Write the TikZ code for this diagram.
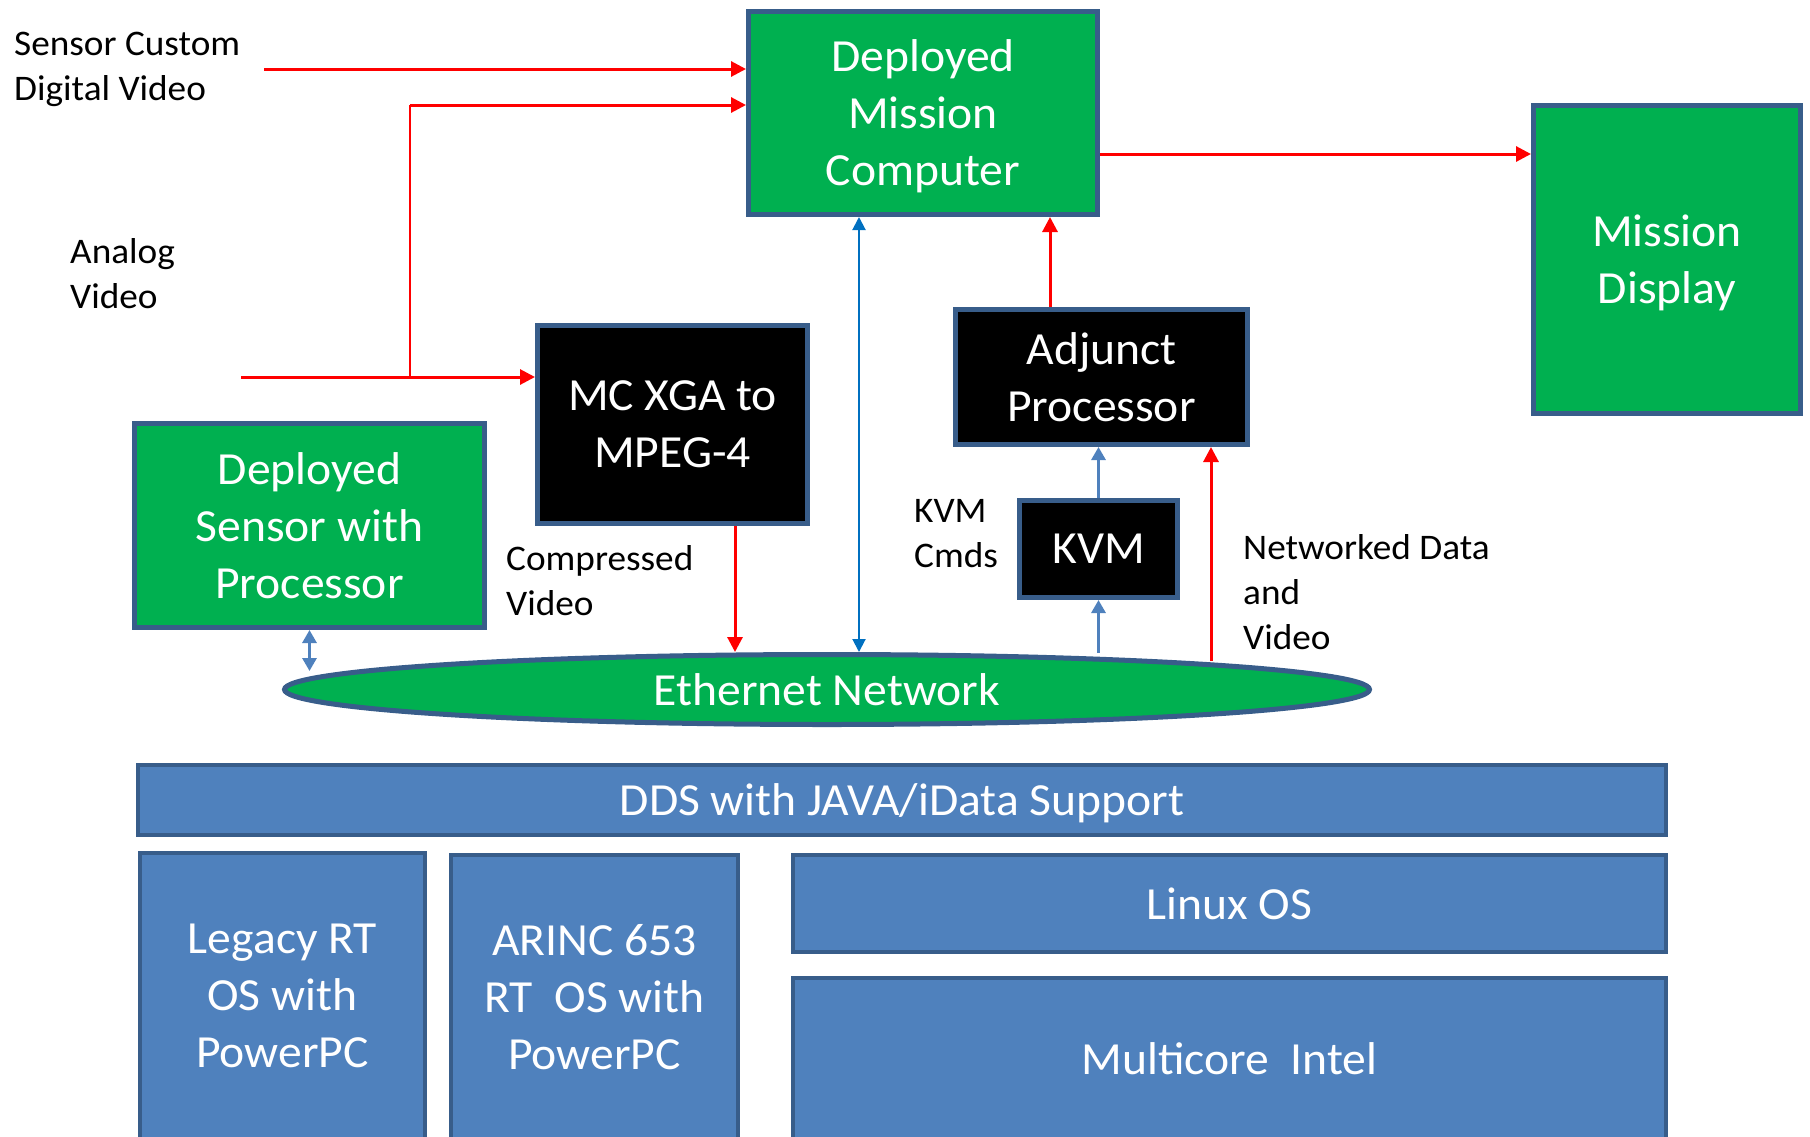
\documentclass[tikz,border=0pt]{standalone}
\usepackage{fontspec}
\setmainfont{Carlito}[FakeStretch=1.035]
\usetikzlibrary{arrows.meta,shapes.geometric,calc}
\definecolor{boxgreen}{HTML}{00B050}
\definecolor{edge}{HTML}{385D8A}
\definecolor{layer}{HTML}{4F81BD}
\definecolor{linkblue}{HTML}{0070C0}
\definecolor{sigred}{HTML}{FF0000}

\begin{document}
\begin{tikzpicture}[x=1pt,y=-1pt,
  bigtext/.style={font=\fontsize{46}{57}\selectfont, align=center, text=white, text depth=0pt},
  greenbox/.style={bigtext, draw=edge, line width=5pt, fill=boxgreen, inner sep=0pt},
  blackbox/.style={bigtext, draw=edge, line width=5pt, fill=black, inner sep=0pt},
  layerbox/.style={bigtext, draw=edge, line width=4pt, fill=layer, inner sep=0pt},
  sidetext/.style={font=\fontsize{36}{45}\selectfont, align=left, anchor=base west, inner sep=0pt},
  redarrow/.style={draw=sigred, line width=3pt, -{Triangle[length=15pt,width=15pt]}},
  redline/.style={draw=sigred, line width=2.5pt},
  bluelink/.style={draw=linkblue, line width=2pt,
    {Triangle[length=13pt,width=13pt]}-{Triangle[length=13pt,width=13pt]}},
  steelarrow/.style={draw=layer, line width=3pt, -{Triangle[length=13pt,width=14pt]}},
  steeldbl/.style={draw=layer, line width=3pt,
    {Triangle[length=13pt,width=14pt]}-{Triangle[length=13pt,width=14pt]}},
]
\useasboundingbox (0,0) rectangle (1810,1136);
\clip (0,0) rectangle (1810,1136);

% processing blocks
\node[greenbox, minimum width=349pt, minimum height=203pt] (dmc) at (923,113) {Deployed\\Mission\\Computer};
\node[greenbox, minimum width=267pt, minimum height=308pt] (md) at (1667,259.5) {Mission\\Display};
\node[blackbox, minimum width=292pt, minimum height=135pt] (adj) at (1101.5,377) {Adjunct\\Processor};
\node[blackbox, minimum width=270pt, minimum height=198pt] (mcx) at (672.5,424.5) {MC XGA to\\MPEG-4};
\node[greenbox, minimum width=350pt, minimum height=204pt] (sens) at (309.5,525.5) {Deployed\\Sensor with\\Processor};
\node[blackbox, minimum width=158pt, minimum height=97pt] (kvm) at (1098.5,549) {KVM};
\node[ellipse, draw=edge, line width=5pt, fill=boxgreen, bigtext, inner sep=0pt,
      minimum width=1085pt, minimum height=70pt] (eth) at (827,689.5) {Ethernet Network};

% software / hardware layers
\node[layerbox, minimum width=1528pt, minimum height=70pt] (dds) at (902,800) {DDS with JAVA/iData Support};
\node[layerbox, minimum width=285pt, minimum height=286pt] (legacy) at (282.5,996) {Legacy RT\\OS with\\PowerPC};
\node[layerbox, minimum width=287pt, minimum height=284pt] (arinc) at (594.5,997) {ARINC 653\\RT\ \ OS with\\PowerPC};
\node[layerbox, minimum width=873pt, minimum height=97pt] (linux) at (1229.5,903.5) {Linux OS};
\node[layerbox, minimum width=873pt, minimum height=161pt] (intel) at (1229.5,1058.5) {Multicore\ \ Intel};

% free-standing labels (placed by the baseline of their last line)
\node[sidetext] (lsc) at (14,100) {Sensor Custom\\Digital Video};
\node[sidetext] (lav) at (70,308) {Analog\\Video};
\node[sidetext] (lcv) at (506,615) {Compressed\\Video};
\node[sidetext] (lkc) at (914,567) {KVM\\Cmds};
\node[sidetext] (lnd) at (1243,649) {Networked Data\\and\\Video};

% video inputs
\coordinate (scin) at (264,69);
\coordinate (avin) at (241,377);
\coordinate (split) at (410,377);
\coordinate (splittop) at (410,105);
\draw[redarrow] (scin) -- (scin -| dmc.west);
\draw[redarrow] (avin) -- (avin -| mcx.west);
\draw[redline] (split) -- (splittop);
\draw[redarrow] (splittop) -- (splittop -| dmc.west);

% block interconnects
\draw[redarrow] ([yshift=-41pt]dmc.east) -- ([yshift=-41pt]dmc.east -| md.west);
\draw[redarrow] ([xshift=62.5pt]mcx.south) -- ([xshift=62.5pt]mcx.south |- eth.north);
\draw[bluelink] ([xshift=-64pt]dmc.south) -- ([xshift=-64pt]dmc.south |- eth.north);
\draw[redarrow] ([xshift=-51.5pt]adj.north) -- ([xshift=-51.5pt]adj.north |- dmc.south);
\draw[steelarrow] (kvm.north) -- (kvm.north |- adj.south);
\coordinate (ethkvm) at ($(kvm.south |- eth.north)+(0,1)$);
\draw[steelarrow] (ethkvm) -- (kvm.south);
\coordinate (ethadj) at ($([xshift=109.5pt]adj.south |- eth.north)+(0,9)$);
\draw[redarrow] (ethadj) -- (ethadj |- adj.south);
\coordinate (senseth) at ($(sens.south)+(0,41)$);
\draw[steeldbl] (sens.south) -- (senseth);
\end{tikzpicture}
\end{document}
